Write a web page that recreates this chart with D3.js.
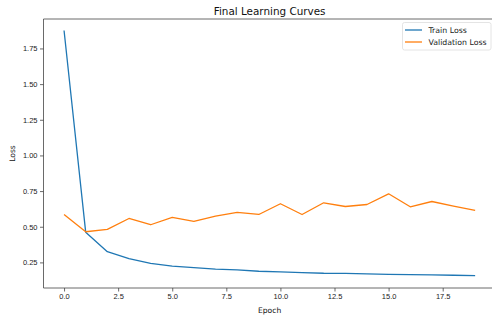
<!DOCTYPE html>
<html>
<head>
<meta charset="utf-8">
<script src="https://cdn.jsdelivr.net/npm/d3@7"></script>
<style>
  body { margin: 0; background: #fff; }
  svg { display: block; font-family: "DejaVu Sans", sans-serif; }
</style>
</head>
<body>
<div id="chart"></div>
<script>
// values
const epochs = d3.range(20)
const trainLoss = [1.876, 0.462, 0.325, 0.276, 0.243, 0.224, 0.213, 0.203, 0.197, 0.188,
  0.183, 0.179, 0.174, 0.173, 0.169, 0.166, 0.164, 0.163, 0.160, 0.157]
const valLoss = [0.586, 0.465, 0.481, 0.558, 0.514, 0.565, 0.537, 0.574, 0.600, 0.586,
  0.661, 0.586, 0.668, 0.642, 0.656, 0.731, 0.640, 0.677, 0.645, 0.614]
const seriesNames = ["Train Loss", "Validation Loss"]
const seriesColors = ["#1f77b4", "#ff7f0e"]
const xTicks = [0, 2.5, 5, 7.5, 10, 12.5, 15, 17.5]
const yTicks = [0.25, 0.5, 0.75, 1.0, 1.25, 1.5, 1.75]

// plot area (figure is cut off on the right, like the original)
const margin = {top: 19, left: 43.5, bottom: 288}
const plotRight = 495.7

const svg = d3.select("#chart")
  .append("svg")
  .attr("width", 492)
  .attr("height", 316)
  .style("overflow", "hidden")

const x = d3.scaleLinear()
  .domain([-0.95, 19.95])
  .range([margin.left, plotRight])

const y = d3.scaleLinear()
  .domain([0.0705, 1.9565])
  .range([margin.bottom, margin.top])

// axes
const xAxis = svg.append("g")
  .attr("transform", `translate(0,${margin.bottom})`)
  .call(d3.axisBottom(x).tickValues(xTicks).tickFormat(d3.format(".1f")).tickSize(3.5).tickPadding(2))
const yAxis = svg.append("g")
  .attr("transform", `translate(${margin.left},0)`)
  .call(d3.axisLeft(y).tickValues(yTicks).tickFormat(d3.format(".2f")).tickSize(3.5).tickPadding(2.5))

for (const ax of [xAxis, yAxis]) {
  ax.selectAll("text").style("font-size", "7.5px").attr("fill", "#222")
  ax.selectAll("line").attr("stroke", "#444").attr("stroke-width", 0.8)
  ax.select(".domain").attr("stroke", "#444").attr("stroke-width", 0.8)
}
xAxis.select(".domain").attr("d", `M${margin.left},0H${plotRight}`)
yAxis.select(".domain").attr("d", `M0,${margin.bottom}V${margin.top}`)

// top spine
svg.append("line")
  .attr("x1", margin.left).attr("x2", plotRight)
  .attr("y1", margin.top).attr("y2", margin.top)
  .attr("stroke", "#444").attr("stroke-width", 0.8)

// lines
const line = d3.line()
  .x((d, i) => x(epochs[i]))
  .y(d => y(d))

;[trainLoss, valLoss].forEach((vals, k) => {
  svg.append("path")
    .datum(vals)
    .attr("fill", "none")
    .attr("stroke", seriesColors[k])
    .attr("stroke-width", 1.3)
    .attr("stroke-linejoin", "round")
    .attr("d", line)
})

// title and axis labels
const midX = (margin.left + plotRight) / 2
svg.append("text")
  .attr("x", midX).attr("y", 14.5)
  .attr("text-anchor", "middle")
  .style("font-size", "10.4px")
  .attr("fill", "#111")
  .text("Final Learning Curves")

svg.append("text")
  .attr("x", midX).attr("y", 313)
  .attr("text-anchor", "middle")
  .style("font-size", "7.6px")
  .attr("fill", "#111")
  .text("Epoch")

svg.append("text")
  .attr("transform", `translate(15,${(margin.top + margin.bottom) / 2}) rotate(-90)`)
  .attr("text-anchor", "middle")
  .style("font-size", "7.6px")
  .attr("fill", "#111")
  .text("Loss")

// legend
const legend = svg.append("g").attr("transform", "translate(402.5,22.5)")
legend.append("rect")
  .attr("width", 88.5).attr("height", 27.5)
  .attr("rx", 2)
  .attr("fill", "#fff").attr("fill-opacity", 0.8)
  .attr("stroke", "#ddd").attr("stroke-width", 0.8)

seriesNames.forEach((name, i) => {
  const yy = 7.5 + i * 12
  legend.append("line")
    .attr("x1", 2.5).attr("x2", 19.5)
    .attr("y1", yy).attr("y2", yy)
    .attr("stroke", seriesColors[i]).attr("stroke-width", 1.3)
  legend.append("text")
    .attr("x", 26).attr("y", yy + 2.7)
    .style("font-size", "7.8px")
    .attr("fill", "#222")
    .text(name)
})
</script>
</body>
</html>
